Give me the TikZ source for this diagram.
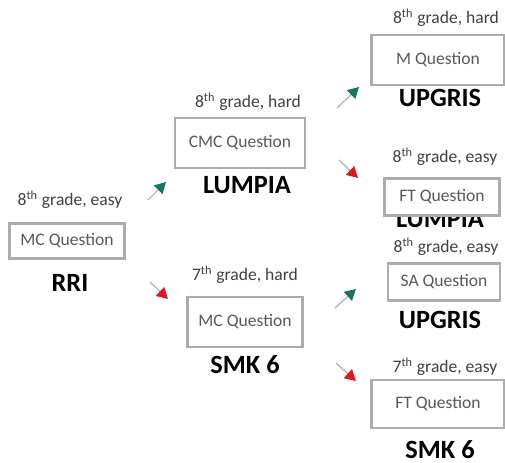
\documentclass[tikz,border=0pt]{standalone}
\usepackage{fontspec}
\setmainfont{Carlito}
\usetikzlibrary{arrows.meta, positioning}
\definecolor{uphead}{RGB}{22,118,98}
\definecolor{downhead}{RGB}{222,22,32}

\begin{document}
\begin{tikzpicture}[x=0.02cm, y=-0.02cm,
  qbox/.style={draw=gray!65, line width=1.3pt, fill=white, inner sep=0pt, font=\fontsize{10}{12}\selectfont, text=black!65},
  glabel/.style={font=\fontsize{10}{12}\selectfont, text=black!75},
  school/.style={font=\fontsize{15}{17}\selectfont\bfseries, text=black},
  uparrow/.style={-{Triangle[length=2.2mm, width=2.4mm, color=uphead]}, draw=gray!55, line width=0.8pt},
  downarrow/.style={-{Triangle[length=2.2mm, width=2.4mm, color=downhead]}, draw=gray!55, line width=0.8pt}
]
\useasboundingbox (0,0) rectangle (505,463);

% --- Root ---
\node[glabel] (rlbl) at (70,200) {8\textsuperscript{th} grade, easy};
\node[qbox, minimum width=2.3cm, minimum height=0.7cm] (rbox) at (67,241) {MC Question};
\node[school] (rname) at (70,283) {RRI};

% --- Second level ---
\node[glabel] (llbl) at (248,102) {8\textsuperscript{th} grade, hard};
\node[qbox, minimum width=2.6cm, minimum height=1cm] (lbox) at (240,143) {CMC Question};
\node[school] (lname) at (247,185) {LUMPIA};

\node[glabel] (slbl) at (245,275) {7\textsuperscript{th} grade, hard};
\node[qbox, minimum width=2.3cm, minimum height=1cm] (sbox) at (245,322) {MC Question};
\node[school] (sname) at (245,365) {SMK 6};

% --- Third level ---
\node[glabel] (ualbl) at (446,18) {8\textsuperscript{th} grade, hard};
\node[qbox, minimum width=2.66cm, minimum height=1cm] (uabox) at (438,60) {M Question};
\node[school] (uaname) at (440,98) {UPGRIS};

\node[glabel] (lblbl) at (445,157) {8\textsuperscript{th} grade, easy};
\node[school] (lbname) at (440,219) {LUMPIA};
\node[qbox, minimum width=2.3cm, minimum height=0.74cm] (lbbox) at (442,197) {FT Question};

\node[glabel] (uclbl) at (446,247) {8\textsuperscript{th} grade, easy};
\node[qbox, minimum width=2.24cm, minimum height=0.74cm] (ucbox) at (444,282) {SA Question};
\node[school] (ucname) at (440,320) {UPGRIS};

\node[glabel] (sdlbl) at (445,367) {7\textsuperscript{th} grade, easy};
\node[qbox, minimum width=2.66cm, minimum height=0.96cm] (sdbox) at (438,404) {FT Question};
\node[school] (sdname) at (440,450) {SMK 6};

% --- Arrow ends ---
\coordinate (r1s) at (148,200); \coordinate (r1e) at (166,182);
\coordinate (r2s) at (150,282); \coordinate (r2e) at (168,299);
\coordinate (l1s) at (337,108); \coordinate (l1e) at (359,87);
\coordinate (l2s) at (339,160); \coordinate (l2e) at (358,178);
\coordinate (s1s) at (335,308); \coordinate (s1e) at (356,289);
\coordinate (s2s) at (336,363); \coordinate (s2e) at (356,381);

% --- Arrows ---
\draw[uparrow] (r1s) -- (r1e);
\draw[downarrow] (r2s) -- (r2e);
\draw[uparrow] (l1s) -- (l1e);
\draw[downarrow] (l2s) -- (l2e);
\draw[uparrow] (s1s) -- (s1e);
\draw[downarrow] (s2s) -- (s2e);

\end{tikzpicture}
\end{document}
